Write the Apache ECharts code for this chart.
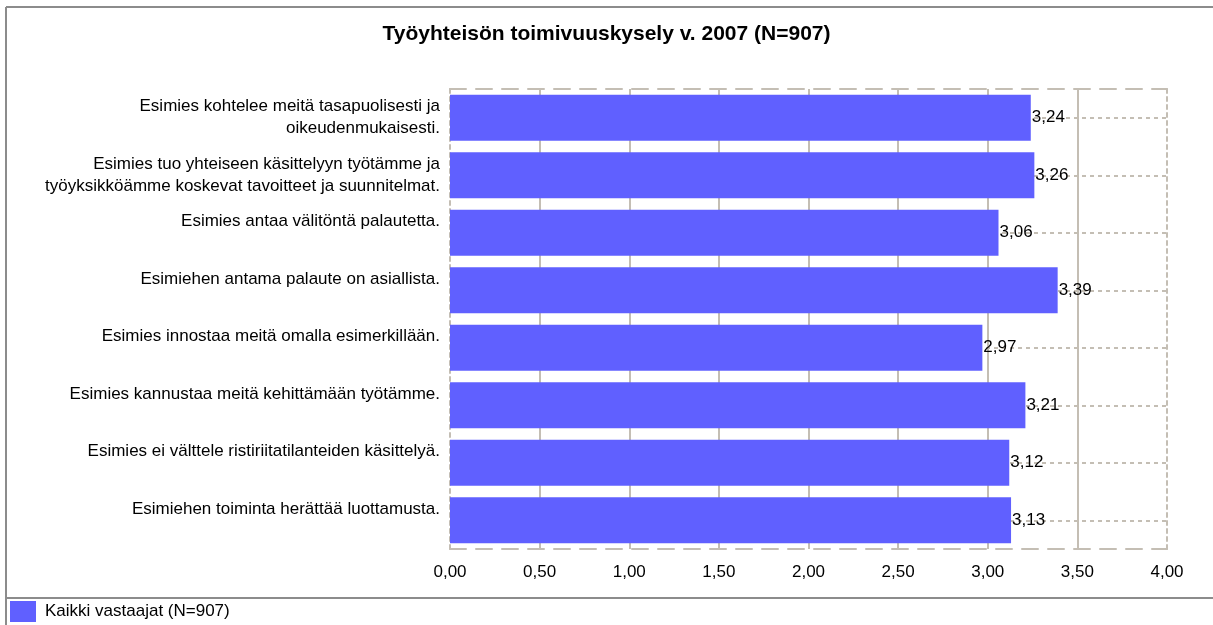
<!DOCTYPE html>
<html>
<head>
<meta charset="utf-8">
<script src="https://cdn.jsdelivr.net/npm/echarts@6/dist/echarts.min.js"></script>
<style>
  html, body { margin: 0; padding: 0; background: #fff; }
  #chart { width: 1213px; height: 625px; }
</style>
</head>
<body>
<div id="chart"></div>
<script>
// kysymykset ylhäältä alas
const categories = [
  'Esimies kohtelee meitä tasapuolisesti ja\noikeudenmukaisesti.',
  'Esimies tuo yhteiseen käsittelyyn työtämme ja\ntyöyksikköämme koskevat tavoitteet ja suunnitelmat.',
  'Esimies antaa välitöntä palautetta.',
  'Esimiehen antama palaute on asiallista.',
  'Esimies innostaa meitä omalla esimerkillään.',
  'Esimies kannustaa meitä kehittämään työtämme.',
  'Esimies ei välttele ristiriitatilanteiden käsittelyä.',
  'Esimiehen toiminta herättää luottamusta.'
]
const values = [3.24, 3.26, 3.06, 3.39, 2.97, 3.21, 3.12, 3.13]
const seriesName = 'Kaikki vastaajat (N=907)'
const titleText = 'Työyhteisön toimivuuskysely v. 2007 (N=907)'

const font = 'Liberation Sans, Arial, sans-serif'
const gridColor = '#c4beb4'
const fmt = v => v.toFixed(2).replace('.', ',')

var myChart = echarts.init(document.getElementById('chart'))
myChart.setOption({
  animation: false,
  textStyle: { fontFamily: font },
  title: {
    text: titleText,
    left: 'center',
    top: 19,
    textStyle: { fontSize: 21, fontWeight: 'bold', color: '#000', fontFamily: font }
  },
  legend: {
    left: 5,
    top: 596,
    itemWidth: 26,
    itemHeight: 21,
    icon: 'rect',
    textStyle: { fontSize: 17, color: '#000', padding: [0, 0, 0, 4] },
    data: [seriesName]
  },
  grid: { left: 450, right: 46, top: 89, bottom: 76 },
  xAxis: [
    {
      type: 'value',
      min: 0,
      max: 4,
      interval: 0.5,
      position: 'bottom',
      axisLine: { show: true, lineStyle: { color: gridColor, width: 2, type: [16, 10] } },
      axisTick: { show: false },
      axisLabel: { formatter: fmt, fontSize: 17, color: '#000', margin: 15 },
      splitLine: { show: true, showMinLine: false, showMaxLine: false, lineStyle: { color: gridColor, width: 2 } }
    },
    {
      type: 'value',
      min: 0,
      max: 4,
      position: 'top',
      axisLine: { show: true, lineStyle: { color: gridColor, width: 2, type: [16, 10] } },
      axisTick: { show: false },
      axisLabel: { show: false },
      splitLine: { show: false }
    }
  ],
  yAxis: [
    {
      type: 'category',
      inverse: true,
      data: categories,
      axisLine: { show: true, onZero: false, lineStyle: { color: gridColor, width: 2, type: [4, 4] } },
      axisTick: { show: false },
      axisLabel: {
        interval: 0,
        margin: 10,
        fontSize: 17,
        lineHeight: 22,
        color: '#000',
        align: 'right',
        verticalAlign: 'middle',
        padding: [0, 0, 6, 0],
        // yksiriviset tekstit saavat tyhjän toisen rivin, jotta ne asettuvat palkin yläosaan
        formatter: v => (v.indexOf('\n') < 0 ? v + '\n ' : v)
      },
      splitLine: { show: false }
    },
    {
      type: 'category',
      inverse: true,
      position: 'right',
      data: categories,
      axisLine: { show: true, onZero: false, lineStyle: { color: gridColor, width: 2, type: [4, 4] } },
      axisTick: { show: false },
      axisLabel: { show: false },
      splitLine: { show: false }
    }
  ],
  series: [
    {
      name: seriesName,
      type: 'bar',
      data: values,
      barWidth: 46,
      z: 3,
      itemStyle: { color: '#6060ff' },
      label: {
        show: true,
        position: 'right',
        distance: 1,
        fontSize: 17,
        color: '#000',
        formatter: p => fmt(p.value)
      },
      markLine: {
        z: 1,
        silent: true,
        symbol: 'none',
        label: { show: false },
        lineStyle: { color: gridColor, width: 2, type: [4, 4] },
        data: categories.map(c => ({ yAxis: c }))
      }
    }
  ],
  graphic: [
    { type: 'line', shape: { x1: 6, y1: 7, x2: 1213, y2: 7 }, style: { stroke: '#8c8c8c', lineWidth: 2 } },
    { type: 'line', shape: { x1: 6, y1: 7, x2: 6, y2: 625 }, style: { stroke: '#8c8c8c', lineWidth: 2 } },
    { type: 'line', shape: { x1: 6, y1: 598, x2: 1213, y2: 598 }, style: { stroke: '#8c8c8c', lineWidth: 2 } }
  ]
})
</script>
</body>
</html>
